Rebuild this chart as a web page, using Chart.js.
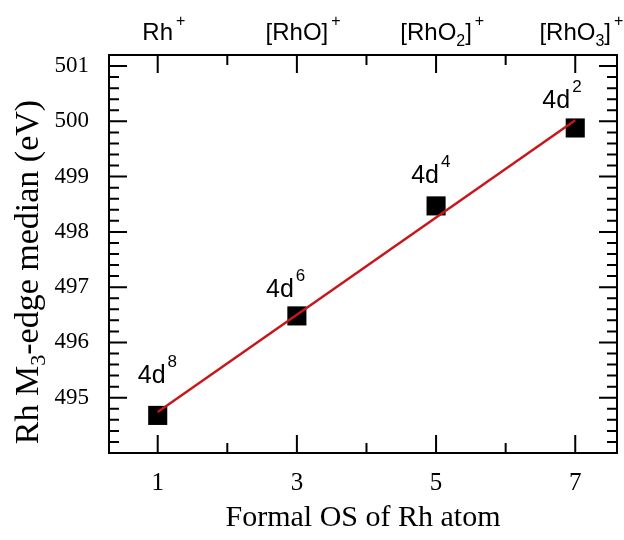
<!DOCTYPE html>
<html lang="en">
<head>
  <meta charset="UTF-8">
  <title>Rh M3-edge median vs formal OS</title>
  <script src="https://cdn.jsdelivr.net/npm/chart.js"></script>
  <style>
    body { margin: 0; background: #fff; }
    #wrap { width: 624px; height: 540px; }
  </style>
</head>
<body>
  <div id="wrap"><canvas id="edgeChart"></canvas></div>

  <script>
    // values
    const osValues = [1, 3, 5, 7];
    const edgeMedian = [494.68, 496.48, 498.47, 499.88];
    const fitX = [1, 7];
    const fitY = [494.74, 500.02];
    const configLabels = ['4d^8', '4d^6', '4d^4', '4d^2'];
    const ionLabels = ['Rh^+', '[RhO]^+', '[RhO_2]^+', '[RhO_3]^+'];
    const yTitle = 'Rh M_3-edge median (eV)';
    const xTicks = [1, 3, 5, 7];
    const xMinor = [2, 4, 6];
    const yTicks = [495, 496, 497, 498, 499, 500, 501];
    const yMinorStep = 0.2;

    const serif = '"Liberation Serif", "Times New Roman", serif';
    const sans = '"Liberation Sans", Arial, sans-serif';

    // text with ^x (superscript) and _x (subscript), centred on cx without the trailing superscript
    function drawRich(ctx, str, cx, base, o) {
      const parts = [];
      str.replace(/([_^])(.)|([^_^]+)/g, (m, mark, ch, txt) => {
        parts.push(mark ? { t: ch, k: mark } : { t: txt, k: '' });
      });
      const fontOf = k => (k ? o.small : o.size) + 'px ' + o.family;
      parts.forEach(p => { ctx.font = fontOf(p.k); p.w = ctx.measureText(p.t).width; });
      let coreW = 0;
      parts.forEach((p, i) => { if (!(i === parts.length - 1 && p.k === '^')) coreW += p.w; });
      let x = cx - coreW / 2;
      ctx.textAlign = 'left';
      ctx.textBaseline = 'alphabetic';
      parts.forEach(p => {
        ctx.font = fontOf(p.k);
        let y = base;
        if (p.k === '^') { y = base - o.raise; x += o.gap; }
        if (p.k === '_') y = base + o.drop;
        ctx.fillText(p.t, x, y);
        x += p.w;
      });
    }

    const frameAndTags = {
      id: 'frameAndTags',
      afterDraw(chart, args, opts) {
        const { ctx, chartArea: a, scales: { x, y } } = chart;
        ctx.save();
        ctx.strokeStyle = '#000';
        ctx.lineWidth = 2;
        ctx.beginPath();
        xTicks.concat(xMinor).forEach(v => {
          const px = x.getPixelForValue(v);
          const len = xTicks.includes(v) ? 18 : 10;
          ctx.moveTo(px, a.bottom); ctx.lineTo(px, a.bottom - len);
          ctx.moveTo(px, a.top); ctx.lineTo(px, a.top + len);
        });
        const n = Math.round((y.max - y.min) / yMinorStep);
        for (let i = 0; i <= n; i++) {
          const v = y.min + i * yMinorStep;
          const py = y.getPixelForValue(v);
          const len = Math.abs(v - Math.round(v)) < 1e-6 ? 18 : 10;
          ctx.moveTo(a.left, py); ctx.lineTo(a.left + len, py);
          ctx.moveTo(a.right, py); ctx.lineTo(a.right - len, py);
        }
        ctx.stroke();
        ctx.strokeRect(a.left, a.top, a.right - a.left, a.bottom - a.top);

        ctx.fillStyle = '#000';
        // ions along the top
        xTicks.forEach((v, i) => {
          drawRich(ctx, ionLabels[i], x.getPixelForValue(v), a.top - 15,
            { family: sans, size: 24, small: 16, raise: 14, drop: 6, gap: 3 });
        });
        // d-electron counts next to the points
        const meta = chart.getDatasetMeta(1);
        meta.data.forEach((pt, i) => {
          const off = opts.offsets[i];
          drawRich(ctx, configLabels[i], pt.x + off[0], pt.y + off[1],
            { family: sans, size: 25, small: 17, raise: 16, drop: 0, gap: 2 });
        });
        // rotated y title
        ctx.save();
        ctx.translate(opts.yTitleX, (a.top + a.bottom) / 2 + opts.yTitleShift);
        ctx.rotate(-Math.PI / 2);
        drawRich(ctx, yTitle, 0, 0, { family: serif, size: 34, small: 22, raise: 0, drop: 7, gap: 0 });
        ctx.restore();
        ctx.restore();
      }
    };

    Chart.defaults.color = '#000';

    new Chart(document.getElementById('edgeChart'), {
      type: 'scatter',
      data: {
        datasets: [
          {
            label: 'fit',
            data: fitX.map((v, i) => ({ x: v, y: fitY[i] })),
            showLine: true,
            borderColor: '#c8161d',
            borderWidth: 2.5,
            pointRadius: 0
          },
          {
            label: 'M3-edge median',
            data: osValues.map((v, i) => ({ x: v, y: edgeMedian[i] })),
            pointStyle: 'rect',
            pointRadius: 13.5,
            backgroundColor: '#000',
            borderWidth: 0
          }
        ]
      },
      options: {
        responsive: true,
        maintainAspectRatio: false,
        animation: false,
        layout: { padding: { top: 55, right: 7, left: 0, bottom: 0 }, autoPadding: false },
        plugins: {
          legend: { display: false },
          tooltip: { enabled: false },
          frameAndTags: {
            offsets: [[-6, -32], [-17, -19], [-11, -23], [-19, -20]],
            yTitleX: 38,
            yTitleShift: 18
          }
        },
        scales: {
          x: {
            type: 'linear',
            min: 0.3,
            max: 7.6,
            afterBuildTicks: s => { s.ticks = xTicks.map(v => ({ value: v })); },
            afterFit: s => { s.height = 87; },
            grid: { display: false },
            border: { display: false },
            ticks: { font: { family: serif, size: 25 }, padding: 7, maxRotation: 0 },
            title: {
              display: true,
              text: 'Formal OS of Rh atom',
              font: { family: serif, size: 30 },
              padding: { top: 0, bottom: 4 }
            }
          },
          y: {
            min: 494,
            max: 501.2,
            afterBuildTicks: s => { s.ticks = yTicks.map(v => ({ value: v })); },
            afterFit: s => { s.width = 109; },
            grid: { display: false },
            border: { display: false },
            ticks: { font: { family: serif, size: 23 }, padding: 12 }
          }
        }
      },
      plugins: [frameAndTags]
    });
  </script>
</body>
</html>
